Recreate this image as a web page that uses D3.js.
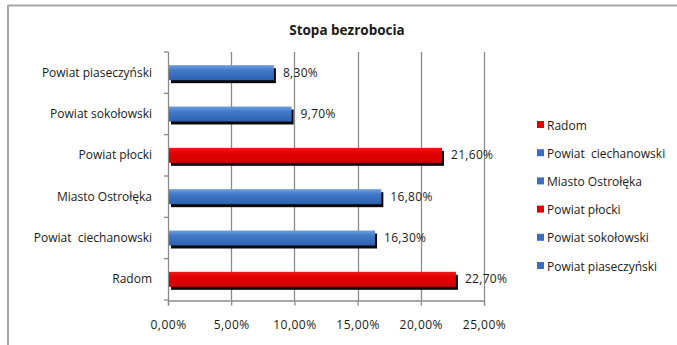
<!DOCTYPE html>
<html>
<head>
<meta charset="utf-8">
<script src="https://cdn.jsdelivr.net/npm/d3@7/dist/d3.min.js"></script>
<style>
  html, body { margin: 0; padding: 0; background: #fff; }
  svg { display: block; }
  text { font-family: "Open Sans", Lato, sans-serif; fill: #1a1a1a; white-space: pre; }
</style>
</head>
<body>
<svg id="chart" width="677" height="345"></svg>
<script>
// Unemployment rate by area (listed bottom to top, as in the legend)
const categories = ["Radom", "Powiat  ciechanowski", "Miasto Ostrołęka", "Powiat płocki", "Powiat sokołowski", "Powiat piaseczyński"];
const rates = [22.7, 16.3, 16.8, 21.6, 9.7, 8.3];
const seriesColor = ["red", "blue", "blue", "red", "blue", "blue"];
const xTicks = [0, 5, 10, 15, 20, 25];
const title = "Stopa bezrobocia";

const svg = d3.select("#chart");
const fmt = v => v.toFixed(2).replace(".", ",") + "%";
const FS = 12;

// gradients for the bar faces
const defs = svg.append("defs");
const gBlue = defs.append("linearGradient").attr("id", "gBlue").attr("x1", 0).attr("y1", 0).attr("x2", 0).attr("y2", 1);
gBlue.append("stop").attr("offset", "0%").attr("stop-color", "#6f9ee0");
gBlue.append("stop").attr("offset", "35%").attr("stop-color", "#4179c8");
gBlue.append("stop").attr("offset", "100%").attr("stop-color", "#2d62b0");
const gRed = defs.append("linearGradient").attr("id", "gRed").attr("x1", 0).attr("y1", 0).attr("x2", 0).attr("y2", 1);
gRed.append("stop").attr("offset", "0%").attr("stop-color", "#f01818");
gRed.append("stop").attr("offset", "40%").attr("stop-color", "#e00000");
gRed.append("stop").attr("offset", "100%").attr("stop-color", "#d40000");
const fillOf = c => c === "red" ? "url(#gRed)" : "url(#gBlue)";
const swatchOf = c => c === "red" ? "#e00000" : "#3a6fc0";

// chart frame (top and left edges)
svg.append("line").attr("x1", 8).attr("x2", 677).attr("y1", 5.5).attr("y2", 5.5)
  .attr("stroke", "#a6a6a6").attr("stroke-width", 2);
svg.append("line").attr("x1", 8).attr("x2", 8).attr("y1", 5).attr("y2", 345)
  .attr("stroke", "#a6a6a6").attr("stroke-width", 2);

// title
svg.append("text").attr("x", 347).attr("y", 35).attr("text-anchor", "middle")
  .attr("font-size", 13.5).attr("font-weight", "bold").text(title);

const x = d3.scaleLinear().domain([0, 25]).range([168, 484]);
const y = d3.scaleBand().domain(categories.slice().reverse()).range([52, 300]).padding(0);

// vertical gridlines
svg.append("g").selectAll("line").data(xTicks.slice(1)).join("line")
  .attr("x1", d => Math.round(x(d)) + 0.5).attr("x2", d => Math.round(x(d)) + 0.5)
  .attr("y1", 52).attr("y2", 300)
  .attr("stroke", "#8a8a8a").attr("stroke-width", 1.3);

// x axis
const xAxis = svg.append("g").attr("transform", "translate(0,300.5)")
  .call(d3.axisBottom(x).tickValues(xTicks).tickSize(5).tickFormat(fmt));
xAxis.select(".domain").attr("stroke", "#8a8a8a").attr("stroke-width", 1.3);
xAxis.selectAll(".tick line").attr("stroke", "#8a8a8a").attr("stroke-width", 1.3);
xAxis.selectAll(".tick text").attr("font-size", FS).attr("dy", 0).attr("y", 28)
  .attr("letter-spacing", 0.5)
  .style("font-family", "'Open Sans', sans-serif").attr("fill", "#1a1a1a");

// y axis with ticks at category boundaries
const yAxisG = svg.append("g");
yAxisG.append("line").attr("x1", 168.5).attr("x2", 168.5).attr("y1", 52).attr("y2", 300)
  .attr("stroke", "#8a8a8a").attr("stroke-width", 1.3);
const bounds = d3.range(categories.length + 1).map(i => 52 + i * y.bandwidth());
yAxisG.selectAll("line.t").data(bounds).join("line").attr("class", "t")
  .attr("x1", 164).attr("x2", 168.5).attr("y1", d => d).attr("y2", d => d)
  .attr("stroke", "#8a8a8a").attr("stroke-width", 1.3);
yAxisG.selectAll("text").data(categories).join("text")
  .attr("x", 152).attr("y", d => y(d) + y.bandwidth() / 2 + 4)
  .attr("text-anchor", "end").attr("font-size", FS).text(d => d);

// bars with drop shadow
const barH = 15;
const rows = categories.map((c, i) => ({ c, v: rates[i], col: seriesColor[i] }));
const bars = svg.append("g");
bars.selectAll("rect.sh").data(rows).join("rect").attr("class", "sh")
  .attr("x", x(0) + 3).attr("y", d => y(d.c) + y.bandwidth() / 2 - barH / 2 + 3)
  .attr("width", d => x(d.v) - x(0)).attr("height", barH)
  .attr("fill", "#0a0a0a");
bars.selectAll("rect.b").data(rows).join("rect").attr("class", "b")
  .attr("x", x(0) + 1).attr("y", d => y(d.c) + y.bandwidth() / 2 - barH / 2)
  .attr("width", d => x(d.v) - x(0)).attr("height", barH)
  .attr("fill", d => fillOf(d.col));

// value labels
svg.append("g").selectAll("text").data(rows).join("text")
  .attr("x", d => x(d.v) + 10).attr("y", d => y(d.c) + y.bandwidth() / 2 + 4)
  .attr("font-size", FS).attr("letter-spacing", 0.3).text(d => fmt(d.v));

// legend
const legend = svg.append("g");
const lg = legend.selectAll("g").data(rows).join("g")
  .attr("transform", (d, i) => `translate(537,${126 + i * 28.2})`);
lg.append("rect").attr("x", 0).attr("y", -5).attr("width", 7).attr("height", 7)
  .attr("fill", d => swatchOf(d.col));
lg.append("text").attr("x", 10).attr("y", 3.5).attr("font-size", FS).text(d => d.c);
</script>
</body>
</html>
